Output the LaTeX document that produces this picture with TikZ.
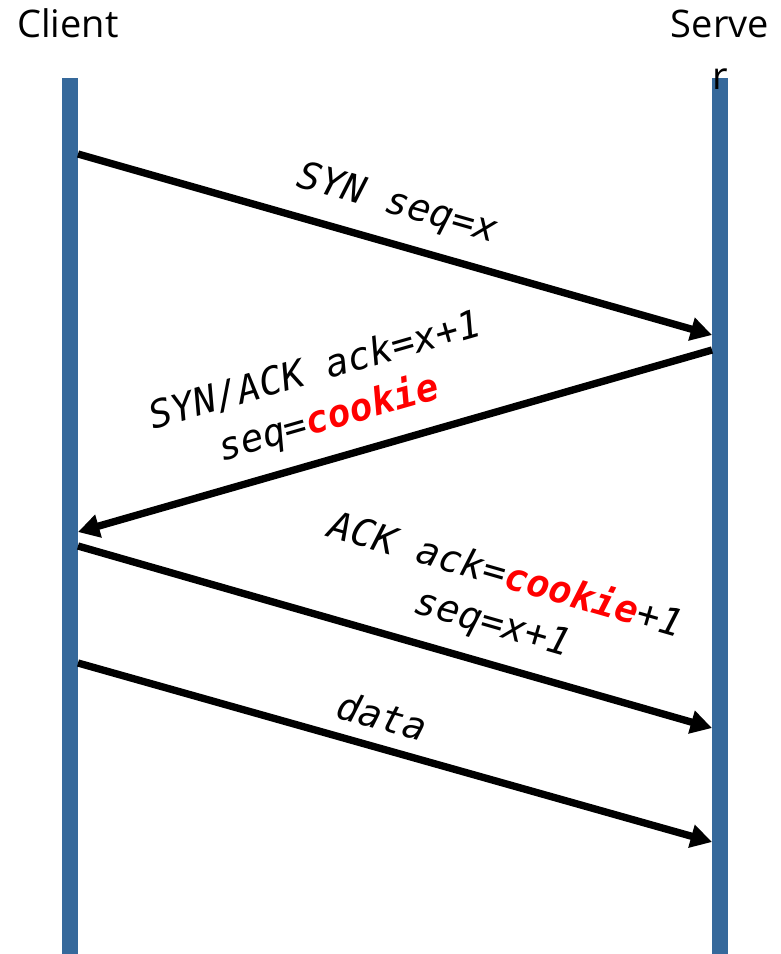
\documentclass[tikz,border=0pt]{standalone}
\usepackage{fontspec}
\setmainfont{Open Sans}
\newfontfamily\msgfont{DejaVu Sans Mono}
\usetikzlibrary{arrows.meta}
\definecolor{barblue}{RGB}{54,105,155}
\definecolor{cookiered}{RGB}{255,0,0}

\begin{document}
\begin{tikzpicture}[x=0.75pt, y=-0.75pt,
    lifeline/.style={fill=barblue, draw=none, minimum width=12pt, minimum height=657pt, inner sep=0pt},
    endpoint/.style={font=\fontsize{28.5}{39}\selectfont, inner sep=0pt},
    msg/.style={line width=5.5pt, -{Triangle[length=16pt, width=17pt]}},
    msglabel/.style={font=\msgfont\itshape\fontsize{28.5}{37}\selectfont, inner sep=0pt, sloped, align=center}]
        \useasboundingbox (0,0) rectangle (781,954);
        % Draw the two life lines
        \node[lifeline] (client) at (70,516) {};
        \node[lifeline] (server) at (720,516) {};
        % Message end points on the life lines
        \foreach \n/\y in {1/154,2/532,3/546,4/663} {
            \coordinate (c\n) at (78,\y);
        }
        \foreach \n/\y in {1/335,2/350,3/728,4/842} {
            \coordinate (s\n) at (712,\y);
        }
        % Draw the messages
        \draw[msg] (c1) -- node[msglabel, pos=0.487, above=13pt] (synlabel) {SYN seq=x} (s1);
        \draw[msg] (s2) -- node[msglabel, pos=0.587, above=12.7pt] (synacklabel)
            {SYN/ACK ack=x+1\\seq={\bfseries\color{cookiered}cookie}} (c2);
        \draw[msg] (c3) -- node[msglabel, pos=0.636, above=12.6pt] (acklabel)
            {ACK ack={\bfseries\color{cookiered}cookie}+1\\seq=x+1} (s3);
        \draw[msg] (c4) -- node[msglabel, pos=0.466, above=10pt] (datalabel) {data} (s4);
        % Names of the two ends
        \node[endpoint, anchor=base] (clientname) at (68,37) {Client};
        \node[endpoint, align=center, anchor=base] (servername) at (720,89) {Serve\\r};
    \end{tikzpicture}
\end{document}
